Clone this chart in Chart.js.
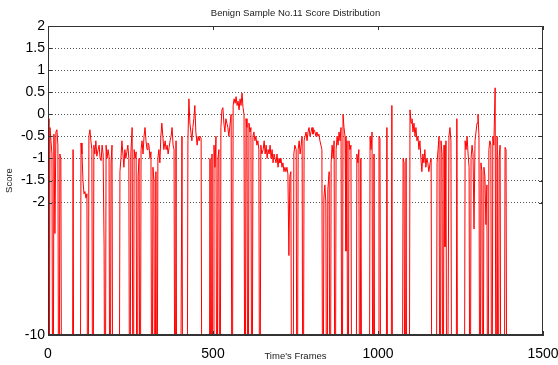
<!DOCTYPE html>
<html>
<head>
<meta charset="utf-8">
<script src="https://cdn.jsdelivr.net/npm/chart.js@4.4.1/dist/chart.umd.min.js"></script>
<style>
  body { margin: 0; background: #fff; }
  #wrap { width: 558px; height: 365px; }
</style>
</head>
<body>
<div id="wrap"><canvas id="chart"></canvas></div>
<script>
// frame index and score; -10 = dropped frame
const frames = [
    0, 3, 6, 9, 12, 15, 18, 21, 24, 27,
    30, 33, 36, 39, 42, 73, 76, 79, 97, 100,
    103, 106, 109, 112, 115, 118, 121, 124, 127, 130,
    133, 136, 139, 142, 145, 148, 152, 155, 158, 161, 164, 167, 170, 173,
    176, 179, 182, 185, 188, 191, 194, 197,
    215, 218, 221, 224, 227, 230, 233, 236, 239, 242, 245, 248,
    251, 255, 258, 261, 264, 267, 270, 273, 276, 279,
    282, 285, 288, 291, 294, 297, 300, 303, 306, 309, 312, 315,
    318, 321, 324, 327, 330, 333, 336, 339, 342, 345, 348, 351, 355,
    358, 361, 364, 367, 370, 373, 376, 379, 382, 385, 388,
    391, 400, 406, 409, 421, 424, 427,
    430, 433, 436, 439, 442, 445, 448, 452, 455, 458, 461, 464, 467,
    488, 491, 494, 497, 500, 503, 506, 509, 512, 515, 518, 521,
    524, 527, 530, 533, 536, 539, 542, 545, 548, 552, 555, 558,
    561, 564, 567, 570, 573, 576, 579, 582, 585, 588, 591, 594, 597,
    600, 603, 606, 609, 612, 615, 618, 621, 624, 627, 630, 633, 636, 639, 642,
    645, 648, 652, 655, 658, 661, 664, 667, 670, 673, 676, 679, 682, 685, 688,
    691, 694, 697, 700, 703, 706, 709, 712, 715, 718, 721, 724, 727, 730, 733, 736, 739,
    742, 745, 748, 752, 755, 758, 761, 764, 767, 770, 773,
    776, 779, 782, 785, 788, 791, 794, 797, 800, 803, 806, 809, 812, 815, 818, 821, 824, 827, 830, 833,
    836, 839, 842, 845, 848, 852, 855, 858, 861, 864, 867, 870,
    873, 876, 879, 882, 885, 888, 891, 894, 897, 900, 903, 906, 909, 912, 915, 918, 921,
    933, 936, 939, 942, 945, 948, 952, 973, 976, 979, 982, 985, 988, 991,
    1000, 1003, 1006, 1009, 1024, 1027, 1030, 1039, 1042, 1045,
    1073, 1076, 1079, 1082, 1085, 1088, 1094,
    1097, 1100, 1103, 1106, 1109, 1112, 1115, 1118, 1121, 1124, 1127, 1130, 1133, 1136, 1139, 1142, 1145, 1148, 1151, 1154, 1158, 1161, 1164,
    1176, 1179, 1182, 1185, 1188, 1191, 1194, 1197, 1200, 1203, 1206, 1209, 1215, 1218, 1221, 1224,
    1236, 1239, 1242, 1261, 1264, 1267, 1270, 1273, 1276, 1279,
    1282, 1285, 1288, 1291, 1294, 1297, 1300, 1303, 1306, 1309, 1312, 1315, 1318,
    1321, 1324, 1327, 1330, 1333, 1336, 1339, 1342, 1345, 1348, 1351, 1355, 1358,
    1361, 1364, 1367, 1370, 1373, 1382, 1385, 1388, 1391
];
const scores = [
    -0.1, -10, -0.3, -0.6, -0.9, -10, -0.45, -2.7, -0.4, -0.35,
    -0.7, -10, -0.9, -1.0, -10, -10, -0.8, -10, -10, -0.65,
    -0.9, -1.5, -1.8, -1.75, -1.9, -1.8, -10, -0.5, -0.35, -0.6,
    -0.8, -10, -0.7, -0.9, -0.6, -0.95, -0.8, -0.7, -1.0, -1.05, -0.7, -0.9, -3.0, -10,
    -0.7, -1.0, -0.8, -0.95, -10, -1.1, -0.7, -10,
    -10, -1.3, -1.0, -0.6, -0.9, -1.2, -0.8, -1.0, -0.85, -0.7, -1.0, -10,
    -0.9, -0.3, -10, -0.8, -1.0, -0.85, -10, -1.4, -1.0, -10,
    -0.8, -0.6, -0.9, -0.5, -0.3, -0.6, -0.8, -0.65, -0.7, -1.0, -0.85, -10,
    -1.2, -1.5, -10, -1.3, -10, -1.0, -0.8, -1.1, -0.5, -0.2, -0.5, -0.8, -0.6,
    -0.8, -0.7, -0.9, -0.75, -0.6, -0.5, -0.3, -0.7, -0.8, -10, -0.6,
    -10, -10, -0.5, -10, -10, -0.6, 0.35,
    -0.2, -0.4, -0.6, -0.3, -0.1, 0.2, -0.4, -0.7, -0.5, -0.6, -0.5, -0.55, -10,
    -10, -1.0, -10, -0.9, -10, -0.7, -1.2, -0.5, -10, -1.0, -0.8, -10,
    -0.3, 0.1, 0.15, -0.2, -0.4, -0.1, -0.2, -0.3, -0.5, -0.2, 0.0, -10,
    0.2, 0.35, 0.25, 0.4, 0.2, 0.3, 0.1, 0.35, 0.2, 0.48, 0.15, 0.0, -10,
    -0.1, -0.3, -10, -0.2, -0.4, -0.3, -10, -0.5, -0.4, -0.6, -0.5, -0.7, -0.6, -0.8, -10,
    -0.7, -0.9, -0.8, -0.6, -0.9, -0.7, -1.0, -0.8, -0.9, -0.7, -1.0, -0.8, -1.1, -0.9, -1.0,
    -1.1, -0.9, -1.2, -1.0, -1.1, -1.0, -1.2, -1.1, -1.3, -1.2, -1.3, -1.2, -1.35, -3.2, -1.4, -1.3, -10,
    -10, -0.9, -0.7, -0.8, -10, -0.8, -0.6, -0.9, -0.7, -0.5, -10,
    -0.6, -0.5, -0.4, -0.6, -0.4, -0.3, -0.5, -0.4, -0.3, -0.45, -0.35, -0.4, -0.5, -0.4, -0.5, -0.45, -0.6, -0.7, -0.8, -10,
    -1.9, -1.6, -2.0, -10, -1.7, -1.3, -10, -1.1, -0.7, -1.0, -0.6, -10,
    -0.8, -0.5, -0.7, -0.4, -0.6, -0.3, -10, 0.0, -0.3, -0.5, -3.1, -0.6, -10, -0.6, -0.8, -0.7, -10,
    -10, -0.9, -1.1, -0.8, -10, -1.0, -10, -10, -0.5, -0.8, -0.4, -10, -0.9, -10,
    -10, -0.5, -0.55, -10, -10, -0.3, -10, -10, 0.2, -10,
    -10, -1.0, -1.1, -10, -1.0, -10, -10,
    0.1, -0.2, -0.1, -0.4, -0.2, -0.5, -0.3, -0.6, -0.5, -0.8, -0.6, -1.0, -1.3, -0.9, -1.1, -0.8, -1.2, -1.0, -1.1, -1.3, -1.1, -1.0, -10,
    -10, -1.1, -0.8, -0.5, -10, -0.6, -0.9, -10, -0.7, -3.0, -0.6, -10, -0.5, -0.3, -0.6, -10,
    -10, -0.1, -10, -10, -0.6, -0.8, -0.5, -0.9, -1.2, -10,
    -1.0, -0.7, -0.9, -2.6, -0.6, -0.4, -0.2, 0.0, -0.5, -10, -1.1, -1.3, -10,
    -1.2, -1.4, -2.5, -1.6, -10, -0.8, -0.6, -0.7, -10, -0.5, -0.7, 0.6, -10,
    -0.5, -10, -1.0, -0.7, -10, -10, -0.75, -0.8, -10
];

// the bottom of the axis is labelled -10 (scores below -5 sit on the floor)
const yTicks = [-5, -2, -1.5, -1, -0.5, 0, 0.5, 1, 1.5, 2];
const yTickLabels = ['-10', '-2', '-1.5', '-1', '-0.5', '0', '0.5', '1', '1.5', '2'];
const xTicks = [0, 500, 1000, 1500];

const tickFont = { family: 'Liberation Sans', size: 14 };
const smallFont = { family: 'Liberation Sans', size: 9.5 };

// box round the plot with small inward tick marks, matlab style
const boxPlugin = {
    id: 'box',
    afterDraw(chart) {
        const { ctx, chartArea: a, scales: { x, y } } = chart;
        ctx.save();
        ctx.strokeStyle = '#333';
        ctx.lineWidth = 1;
        ctx.strokeRect(a.left + 0.5, a.top + 0.5, a.right - a.left - 1, a.bottom - a.top - 1);
        ctx.beginPath();
        xTicks.forEach(v => {
            const px = Math.round(x.getPixelForValue(v)) + 0.5;
            ctx.moveTo(px, a.top); ctx.lineTo(px, a.top + 4);
            ctx.moveTo(px, a.bottom); ctx.lineTo(px, a.bottom - 4);
        });
        yTicks.forEach(v => {
            const py = Math.round(y.getPixelForValue(v)) + 0.5;
            ctx.moveTo(a.left, py); ctx.lineTo(a.left + 4, py);
            ctx.moveTo(a.right, py); ctx.lineTo(a.right - 4, py);
        });
        ctx.stroke();
        ctx.restore();
    }
};

new Chart(document.getElementById('chart'), {
    type: 'line',
    data: {
        datasets: [{
            data: frames.map((f, i) => ({ x: f, y: scores[i] })),
            borderColor: '#ff0000',
            borderWidth: 1,
            pointRadius: 0,
            tension: 0,
        }]
    },
    options: {
        responsive: true,
        maintainAspectRatio: false,
        animation: false,
        devicePixelRatio: 1,
        layout: { padding: { left: 0, right: 15, top: 0, bottom: 0 } },
        plugins: {
            legend: { display: false },
            tooltip: { enabled: false },
            title: {
                display: true,
                text: 'Benign Sample No.11 Score Distribution',
                fullSize: false,
                color: '#222',
                font: { ...smallFont, weight: 'normal' },
                padding: { top: 8, bottom: 6.6 }
            }
        },
        scales: {
            x: {
                type: 'linear',
                min: 0,
                max: 1500,
                afterBuildTicks: s => { s.ticks = xTicks.map(v => ({ value: v })); },
                afterFit: s => { s.height = 30; s.paddingLeft = 0; s.paddingRight = 0; },
                ticks: { callback: v => String(v), color: '#000', font: tickFont, padding: 3, maxRotation: 0 },
                grid: { display: false },
                border: { color: '#333' },
                title: { display: true, text: "Time's Frames", color: '#222', font: smallFont, padding: { top: 0, bottom: 3 } }
            },
            y: {
                min: -5,
                max: 2,
                afterBuildTicks: s => { s.ticks = yTicks.map(v => ({ value: v })); },
                afterFit: s => { s.width = 48; },
                ticks: { callback: v => yTickLabels[yTicks.indexOf(v)], color: '#000', font: tickFont, padding: 3 },
                grid: {
                    drawTicks: false,
                    color: c => (c.tick && (c.tick.value === -5 || c.tick.value === 2)) ? 'rgba(0,0,0,0)' : '#555'
                },
                border: { color: '#333', dash: [1, 2] },
                title: { display: true, text: 'Score', color: '#222', font: smallFont, padding: { top: 4, bottom: 0 } }
            }
        }
    },
    plugins: [boxPlugin]
});
</script>
</body>
</html>
